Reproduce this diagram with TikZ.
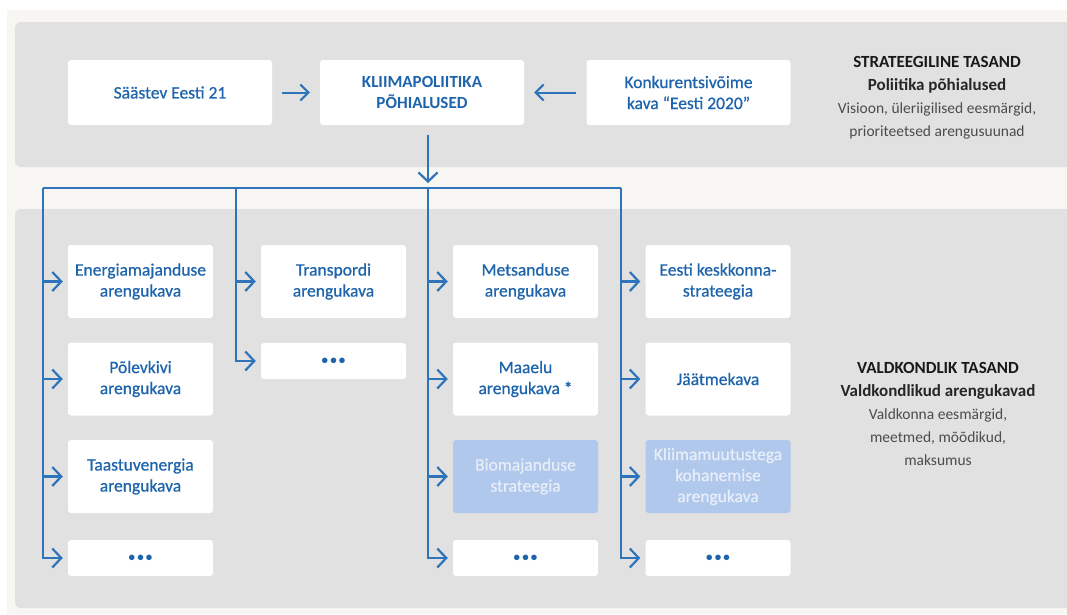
\documentclass[tikz,border=0pt]{standalone}
\usepackage{fontspec}
\setmainfont{Carlito}
\usetikzlibrary{arrows.meta}
\definecolor{planblue}{RGB}{30,100,172}
\definecolor{linkblue}{RGB}{46,116,186}
\definecolor{panelgray}{RGB}{225,225,225}
\definecolor{paper}{RGB}{247,246,243}
\definecolor{fadeblue}{RGB}{176,200,235}
\definecolor{fadetext}{RGB}{232,238,249}

\begin{document}
\begin{tikzpicture}[x=1pt, y=-1pt,
  plan/.style={rounded corners=3pt, fill=white, text=planblue, align=center,
    minimum width=145pt, minimum height=73pt, inner sep=2pt,
    font=\fontsize{17.5}{21}\selectfont\addfontfeature{FakeBold=0.7}},
  more/.style={plan, minimum height=36pt, font=\fontsize{13}{13}\selectfont\bfseries},
  faded/.style={plan, fill=fadeblue, text=fadetext},
  top/.style={plan, minimum width=204pt, minimum height=65pt},
  level/.style={align=center, text=black!70, font=\fontsize{15.5}{23}\selectfont},
  feed/.style={linkblue, line width=2.2pt, shorten >=5pt,
    -{Straight Barb[length=9pt, width=19pt, line width=2.2pt]}},
  lead/.style={linkblue, line width=2pt, shorten >=10pt, shorten <=10pt,
    -{Straight Barb[length=8pt, width=16pt, line width=2pt]}}]
  \useasboundingbox (0,0) rectangle (1067,614);
  \clip (0,0) rectangle (1067,614);
  % paper and the two level panels
  \fill[white] (0,0) rectangle (1067,614);
  \fill[paper] (7,10) rectangle (1067,614);
  \fill[panelgray, rounded corners=6pt] (15,22) rectangle (1080,167);
  \fill[panelgray, rounded corners=6pt] (15,209) rectangle (1080,608);
  % strategic level
  \node[top] (saastev) at (170,92.5) {Säästev Eesti 21};
  \node[top, font=\fontsize{17}{21}\selectfont\bfseries] (kliima) at (422,92.5) {KLIIMAPOLIITIKA\\PÕHIALUSED};
  \node[top] (konk) at (688.5,92.5) {Konkurentsivõime\\kava ``Eesti 2020''};
  \draw[lead] (saastev) -- (kliima);
  \draw[lead] (konk) -- (kliima);
  \node[level] (strat) at (937,98) {{\bfseries\color{black!90}\fontsize{17}{23}\selectfont STRATEEGILINE TASAND}\\
    {\bfseries\color{black!85}\fontsize{17}{23}\selectfont Poliitika põhialused}\\
    Visioon, üleriigilised eesmärgid,\\prioriteetsed arengusuunad};
  % sector level: four columns of plans
  \node[plan] (energia) at (140.5,281.5) {Energiamajanduse\\arengukava};
  \node[plan] (polevkivi) at (140.5,379) {Põlevkivi\\arengukava};
  \node[plan] (taastuv) at (140.5,476.5) {Taastuvenergia\\arengukava};
  \node[more] (dotsA) at (140.5,558) {•\,•\,•};
  \node[plan] (transport) at (333.5,281.5) {Transpordi\\arengukava};
  \node[more] (dotsB) at (333.5,361) {•\,•\,•};
  \node[plan] (mets) at (525.5,281.5) {Metsanduse\\arengukava};
  \node[plan] (maaelu) at (525.5,379) {Maaelu\\arengukava *};
  \node[faded] (bio) at (525.5,476.5) {Biomajanduse\\strateegia};
  \node[more] (dotsC) at (525.5,558) {•\,•\,•};
  \node[plan] (keskkond) at (718,281.5) {Eesti keskkonna-\\strateegia};
  \node[plan] (jaatmed) at (718,379) {Jäätmekava};
  \node[faded] (kohanemine) at (718,476.5) {Kliimamuutustega\\kohanemise\\arengukava};
  \node[more] (dotsD) at (718,558) {•\,•\,•};
  \node[level] (valdkond) at (938,414) {{\bfseries\color{black!90}\fontsize{17}{23}\selectfont VALDKONDLIK TASAND}\\
    {\bfseries\color{black!85}\fontsize{17}{23}\selectfont Valdkondlikud arengukavad}\\
    Valdkonna eesmärgid,\\meetmed, mõõdikud,\\maksumus};
  % bus from the climate policy down to the columns
  \coordinate (busA) at (43,188);
  \coordinate (busB) at (236,188);
  \coordinate (busC) at (428,188);
  \coordinate (busD) at (621,188);
  \draw[feed, shorten <=10pt] (kliima.south -| busC) -- (busC);
  \draw[linkblue, line width=2.2pt] (busA) -- (busD);
  \draw[feed] (busA) |- (dotsA);
  \draw[feed] (busB) |- (dotsB);
  \draw[feed] (busC) |- (dotsC);
  \draw[feed] (busD) |- (dotsD);
  \foreach \plan in {energia, polevkivi, taastuv}
    \draw[feed] (\plan.west -| busA) -- (\plan.west);
  \draw[feed] (transport.west -| busB) -- (transport.west);
  \foreach \plan in {mets, maaelu, bio}
    \draw[feed] (\plan.west -| busC) -- (\plan.west);
  \foreach \plan in {keskkond, jaatmed, kohanemine}
    \draw[feed] (\plan.west -| busD) -- (\plan.west);
\end{tikzpicture}
\end{document}
